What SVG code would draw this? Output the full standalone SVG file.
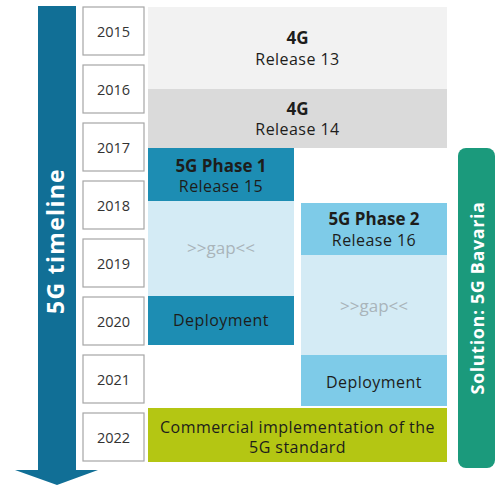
<svg xmlns="http://www.w3.org/2000/svg" width="503" height="486" viewBox="0 0 503 486">
<style>
text{font-family:"Open Sans","Noto Sans","Liberation Sans",sans-serif;text-anchor:middle}
.yr rect{fill:#fff;stroke:#a6a6a6;stroke-width:1.2}
.yr text{font-size:14.5px;fill:#333}
.t{font-size:16px;fill:#1d1d1b;letter-spacing:0.45px}
.b{font-size:17px;font-weight:bold;fill:#1d1d1b}
.gap{font-size:17px;fill:#a9b4ba}
</style>
<rect width="503" height="486" fill="#fff"/>
<g id="timeline">
<path d="M38,6 H76 V470 H98 L57,485 L15,470 H38 Z" fill="#116f96"/>
<text transform="translate(64,241) rotate(-90)" font-size="23" font-weight="bold" letter-spacing="1.3" fill="#fff">5G timeline</text>
</g>
<g id="years" class="yr">
<g id="y2015"><rect x="83" y="7" width="61" height="48"/><text x="113.5" y="37">2015</text></g>
<g id="y2016"><rect x="83" y="65" width="61" height="48"/><text x="113.5" y="95">2016</text></g>
<g id="y2017"><rect x="83" y="123" width="61" height="48"/><text x="113.5" y="153">2017</text></g>
<g id="y2018"><rect x="83" y="181" width="61" height="48"/><text x="113.5" y="211">2018</text></g>
<g id="y2019"><rect x="83" y="239" width="61" height="48"/><text x="113.5" y="269">2019</text></g>
<g id="y2020"><rect x="83" y="297" width="61" height="48"/><text x="113.5" y="327">2020</text></g>
<g id="y2021"><rect x="83" y="355" width="61" height="48"/><text x="113.5" y="385">2021</text></g>
<g id="y2022"><rect x="83" y="413" width="61" height="48"/><text x="113.5" y="443">2022</text></g>
</g>
<g id="r13"><rect x="148" y="7" width="299" height="82" fill="#f2f2f2"/>
<text class="b" x="297.5" y="44">4G</text><text class="t" x="297.5" y="65">Release 13</text></g>
<g id="r14"><rect x="148" y="89" width="299" height="59" fill="#dadada"/>
<text class="b" x="297.5" y="115">4G</text><text class="t" x="297.5" y="135">Release 14</text></g>
<g id="p1">
<rect x="148" y="148" width="146" height="53" fill="#1d8db3"/>
<text class="b" x="221" y="172">5G Phase 1</text><text class="t" x="221" y="192">Release 15</text>
<rect x="148" y="201" width="146" height="95" fill="#d4ebf5"/>
<text class="gap" x="221" y="254">&gt;&gt;gap&lt;&lt;</text>
<rect x="148" y="296" width="146" height="49" fill="#1d8db3"/>
<text class="t" x="221" y="326">Deployment</text>
</g>
<g id="p2">
<rect x="301" y="203" width="146" height="52" fill="#7ecbe8"/>
<text class="b" x="374" y="225">5G Phase 2</text><text class="t" x="374" y="246">Release 16</text>
<rect x="301" y="255" width="146" height="100" fill="#d4ebf5"/>
<text class="gap" x="374" y="312">&gt;&gt;gap&lt;&lt;</text>
<rect x="301" y="355" width="146" height="51" fill="#7ecbe8"/>
<text class="t" x="374" y="388">Deployment</text>
</g>
<g id="commercial"><rect x="148" y="408" width="299" height="54" fill="#b4c613"/>
<text class="t" x="297.5" y="433">Commercial implementation of the</text>
<text class="t" x="297.5" y="453">5G standard</text></g>
<g id="solution"><rect x="458" y="148" width="37" height="320" rx="8" fill="#1b9a7c"/>
<text transform="translate(484,298) rotate(-90)" font-size="18" font-weight="bold" letter-spacing="0.6" fill="#fff">Solution: 5G Bavaria</text></g>
</svg>
